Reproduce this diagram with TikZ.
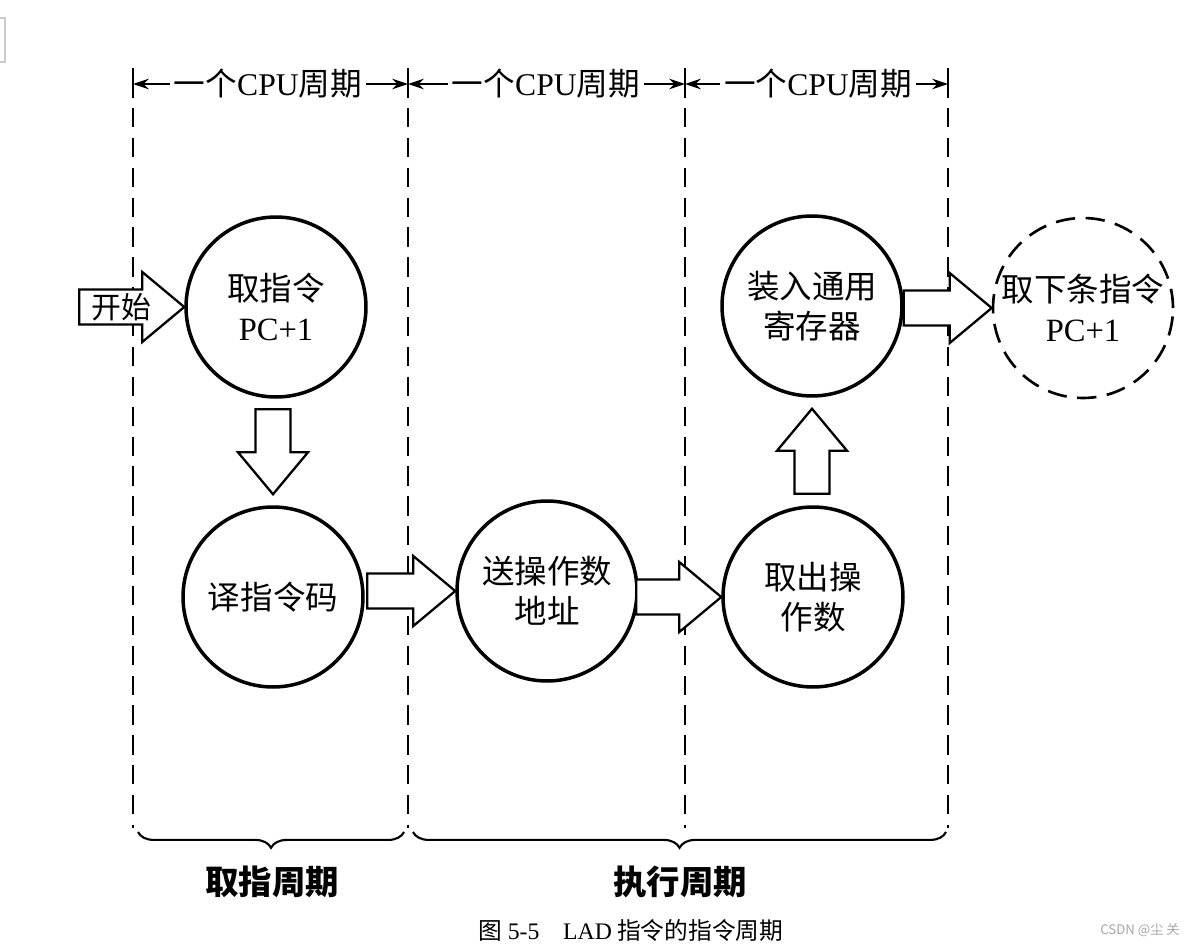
\documentclass[tikz,border=0pt]{standalone}
\usepackage{fontspec}
\setmainfont{Liberation Serif}
\newfontfamily\cjk{Noto Sans CJK SC}
\usetikzlibrary{decorations.pathreplacing, arrows.meta, calc}

\begin{document}
\begin{tikzpicture}[x=0.02cm, y=-0.02cm,
    stage/.style={circle, draw, line width=2pt, minimum size=3.6cm, inner sep=0pt, align=center, font=\cjk\fontsize{18.5}{23}\selectfont},
    blockline/.style={line width=1.3pt, fill=white, line join=miter},
    blockarrow/.pic={\draw[blockline] (0,0) -- (-42,-35) -- (-42,-17.5) -- (-#1,-17.5) -- (-#1,17.5) -- (-42,17.5) -- (-42,35) -- cycle;},
    cycleline/.style={line width=1.2pt, dash pattern=on 11pt off 6pt},
    dimarrow/.style={line width=1.2pt, -{Stealth[length=9pt, width=6pt]}},
    period/.style={font=\cjk\fontsize{18}{22}\selectfont, inner sep=2pt},
    brace/.style={line width=1.2pt, decorate, decoration={brace, mirror, amplitude=9pt}},
    phase/.style={font=\cjk\bfseries\fontsize{19}{22}\selectfont}
]
    \useasboundingbox (0,0) rectangle (1199,947);

    % Scan edge in the corner
    \draw[gray!40, line width=0.6pt] (0,18) -- (5,18) -- (5,62) -- (0,62);

    % Draw the cycle boundaries
    \foreach \x [count=\i] in {133,408,685,948} {
        \draw[line width=1.2pt] (\x,68) -- (\x,98);
        \draw[cycleline] (\x,108) -- (\x,828);
        \coordinate (b\i) at (\x,84);
    }

    % One CPU cycle per column
    \node[period] (cyc1) at (268,84) {一个{\rmfamily CPU}周期};
    \node[period] (cyc2) at (546,84) {一个{\rmfamily CPU}周期};
    \node[period] (cyc3) at (818,84) {一个{\rmfamily CPU}周期};
    \draw[dimarrow] (cyc1.west) -- (b1);
    \draw[dimarrow] (cyc1.east) -- (b2);
    \draw[dimarrow] (cyc2.west) -- (b2);
    \draw[dimarrow] (cyc2.east) -- (b3);
    \draw[dimarrow] (cyc3.west) -- (b3);
    \draw[dimarrow] (cyc3.east) -- (b4);

    % The steps of the instruction
    \node[stage] (fetch) at (276,307) {取指令\\{\rmfamily PC+1}};
    \node[stage] (decode) at (273,597) {译指令码};
    \node[stage] (sendaddr) at (547,591) {送操作数\\地址};
    \node[stage] (readop) at (813,597) {取出操\\作数};
    \node[stage] (load) at (812,306) {装入通用\\寄存器};
    \node[stage, line width=1.5pt, dash pattern=on 11pt off 6pt] (nextins) at (1083,308) {取下条指令\\{\rmfamily PC+1}};

    % Hollow arrows between the steps
    \pic at (fetch.west) {blockarrow=105};
    \node[font=\cjk\fontsize{17}{20}\selectfont] (start) at (121,307) {开始};
    \pic[rotate=-90] at ($(decode.north)+(0,-11)$) {blockarrow=85};
    \pic at (sendaddr.west) {blockarrow=88};
    \pic at (readop.west) {blockarrow=85};
    \pic[rotate=90] at ($(load.south)+(0,11)$) {blockarrow=85};
    \pic at (nextins.west) {blockarrow=88};

    % Braces for the two phases
    \draw[brace] (138,832) -- (404,832);
    \draw[brace] (413,832) -- (946,832);
    \node[phase] (fetchcyc) at (272,882) {取指周期};
    \node[phase] (execcyc) at (680,882) {执行周期};

    % Caption and mark
    \node[font=\cjk\fontsize{13.5}{16}\selectfont] (caption) at (631,930) {图 {\rmfamily 5-5\quad LAD} 指令的指令周期};
    \node[font=\cjk\fontsize{7.5}{9}\selectfont, text=gray!70] (mark) at (1140,930) {CSDN @尘 关};
\end{tikzpicture}
\end{document}
